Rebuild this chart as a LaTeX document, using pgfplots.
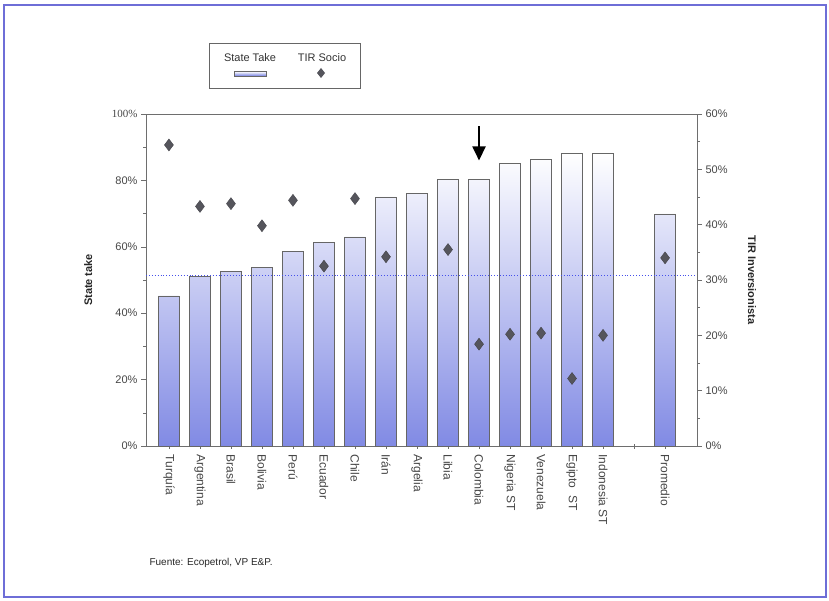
\documentclass[border=0pt]{standalone}
\usepackage{pgfplots}
\pgfplotsset{compat=1.18}
\usetikzlibrary{arrows.meta}
\usepackage{fontspec}
\setmainfont{Liberation Sans}
\newfontfamily\serifnum{Liberation Serif}
\definecolor{barblue}{RGB}{115,125,225}
\definecolor{framec}{RGB}{110,110,215}
\definecolor{txt}{RGB}{70,70,70}
\definecolor{diam}{RGB}{85,85,92}
\definecolor{axc}{RGB}{110,110,110}
\definecolor{dotc}{RGB}{70,80,235}
\pgfplotsset{myax/.style={
  at={(146pt,154pt)}, anchor=south west, width=551pt, height=332pt, scale only axis,
  xmin=-0.74, xmax=17.03,
  axis line style={axc, line width=0.6pt},
  tick style={axc, line width=0.6pt},
  major tick length=5pt, minor tick length=3pt,
  tick align=outside,
  tick label style={font=\fontsize{11}{13}\selectfont, text=txt},
  /pgf/number format/assume math mode=true,
}}
\begin{document}
\begin{tikzpicture}
\useasboundingbox (0pt,0pt) rectangle (829pt,600pt);
\draw[framec, line width=1.6pt] (4pt,3pt) rectangle (826pt,595pt);
\begin{axis}[myax,
  ymin=0, ymax=100,
  xtick={0,...,16},
  xticklabels={Turquía,Argentina,Brasil,Bolivia,Perú,Ecuador,Chile,Irán,Argelia,Libia,Colombia,Nigeria ST,Venezuela,Egipto\ \ ST,Indonesia ST,,Promedio},
  x tick label style={rotate=-90, anchor=west, font=\fontsize{12}{14}\selectfont},
  xtick style={yshift=2.5pt},
  xtick pos=bottom,
  ytick={0,20,40,60,80,100},
  yticklabels={0\%,20\%,40\%,60\%,80\%,{\serifnum 100\%}},
  minor ytick={10,30,50,70,90},
  ytick pos=left,
  ylabel={State take},
  ylabel style={font=\bfseries\fontsize{11}{13}\selectfont, text=black!85, at={(axis description cs:-0.105,0.5)}, anchor=center},
]
\addplot[ybar, bar width=0.68, draw=black!60, line width=0.6pt,
  top color=white, middle color=barblue!28, bottom color=barblue!90] coordinates {
(0,45.2) (1,51.2) (2,52.5) (3,53.9) (4,58.7) (5,61.4) (6,63.0) (7,75.0) (8,76.2)
(9,80.4) (10,80.4) (11,85.2) (12,86.4) (13,88.3) (14,88.3) (16,69.9)};
\addplot[dotc, dotted, line width=0.9pt] coordinates {(-0.74,51.5) (17.03,51.5)};
\draw[-{Triangle[length=14pt,width=13pt]}, line width=2pt] (axis cs:10,96.3) -- (axis cs:10,86);
\end{axis}
\begin{axis}[myax,
  ymin=0, ymax=60,
  axis x line=none,
  axis y line*=right,
  ytick={0,10,...,60},
  yticklabels={0\%,10\%,20\%,30\%,40\%,50\%,60\%},
  minor ytick={5,15,...,55},
  ylabel={TIR Inversionista},
  ylabel style={font=\bfseries\fontsize{11}{13}\selectfont, text=black!85, rotate=180, at={(axis description cs:1.10,0.5)}, anchor=center},
]
\addplot[only marks, mark=diamond*, mark size=6pt, diam, mark options={draw=diam!80!black}] coordinates {
(0,54.4) (1,43.3) (2,43.8) (3,39.8) (4,44.4) (5,32.5) (6,44.7) (7,34.2)
(9,35.5) (10,18.4) (11,20.2) (12,20.4) (13,12.2) (14,20.0) (16,34.0)};
\end{axis}
% legend
\draw[black!60, line width=0.6pt] (209pt,512pt) rectangle (360pt,557pt);
\node[font=\fontsize{11}{13}\selectfont, text=black!80] at (250pt,542pt) {State Take};
\node[font=\fontsize{11}{13}\selectfont, text=black!80] at (322pt,542pt) {TIR Socio};
\draw[black!60, top color=white, bottom color=barblue] (234pt,524pt) rectangle (266pt,528.5pt);
\fill[diam] (321pt,532pt) -- (325pt,527pt) -- (321pt,522pt) -- (317pt,527pt) -- cycle;
\node[anchor=west, font=\fontsize{10}{12}\selectfont, text=black!85] at (146pt,37pt) {Fuente: Ecopetrol, VP E\&P.};
\end{tikzpicture}
\end{document}
